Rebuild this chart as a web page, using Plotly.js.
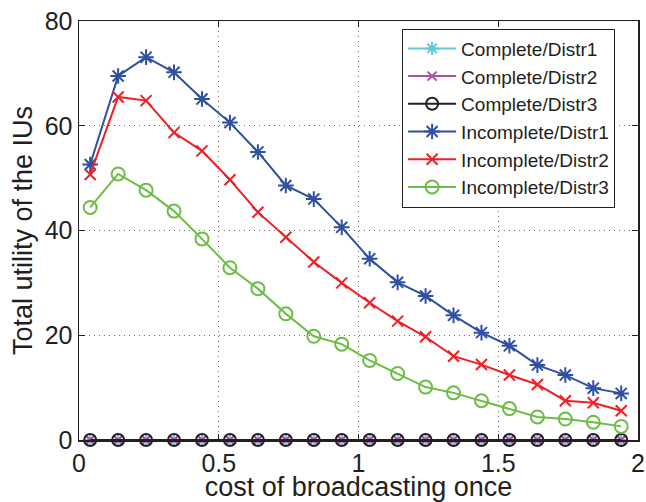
<!DOCTYPE html>
<html>
<head>
<meta charset="utf-8">
<script src="https://cdn.plot.ly/plotly-3.0.1.min.js"></script>
<style>html,body{margin:0;padding:0;background:#fff;}#chart{width:646px;height:502px;}</style>
</head>
<body>
<div id="chart"></div>
<script>
var cost = [0.04, 0.14, 0.24, 0.34, 0.44, 0.54, 0.64, 0.74, 0.84, 0.94, 1.04, 1.14, 1.24, 1.34, 1.44, 1.54, 1.64, 1.74, 1.84, 1.94];
var completeDistr1 = [0,0,0,0,0,0,0,0,0,0,0,0,0,0,0,0,0,0,0,0];
var completeDistr2 = [0,0,0,0,0,0,0,0,0,0,0,0,0,0,0,0,0,0,0,0];
var completeDistr3 = [0,0,0,0,0,0,0,0,0,0,0,0,0,0,0,0,0,0,0,0];
var incompleteDistr1 = [52.6, 69.5, 73.1, 70.2, 65.1, 60.6, 55.0, 48.6, 46.0, 40.6, 34.6, 30.1, 27.5, 23.8, 20.5, 18.0, 14.3, 12.4, 9.9, 8.9];
var incompleteDistr2 = [50.7, 65.5, 64.8, 58.7, 55.2, 49.7, 43.5, 38.7, 34.0, 30.0, 26.2, 22.7, 19.7, 16.0, 14.4, 12.4, 10.6, 7.5, 7.1, 5.6];
var incompleteDistr3 = [44.4, 50.8, 47.7, 43.7, 38.4, 32.9, 28.9, 24.1, 19.8, 18.3, 15.2, 12.7, 10.1, 9.0, 7.5, 6.0, 4.4, 4.0, 3.4, 2.6];
var seriesNames = ['Complete/Distr1','Complete/Distr2','Complete/Distr3','Incomplete/Distr1','Incomplete/Distr2','Incomplete/Distr3'];
var xTickVals = [0, 0.5, 1, 1.5, 2];
var yTickVals = [0, 20, 40, 60, 80];

var styles = [
  {color:'#5fc9d8', symbol:'asterisk-open', size:11},
  {color:'#b24ea0', symbol:'x-thin-open', size:9},
  {color:'#231f20', symbol:'circle-open', size:12},
  {color:'#2e4fa2', symbol:'asterisk-open', size:13},
  {color:'#ee1f26', symbol:'x-thin-open', size:11},
  {color:'#6cbd45', symbol:'circle-open', size:13}
];
var ys = [completeDistr1, completeDistr2, completeDistr3, incompleteDistr1, incompleteDistr2, incompleteDistr3];
var traces = ys.map(function(y, i){
  var s = styles[i];
  return {
    x: cost, y: y, name: seriesNames[i], type:'scatter', mode:'lines+markers',
    cliponaxis:false,
    line:{color:s.color, width:2},
    marker:{symbol:s.symbol, size:s.size, color:s.color, line:{color:s.color, width:2}}
  };
});

var font = 'Liberation Sans, Arial, Helvetica, sans-serif';
var gridDash = '1px,4px';
var layout = {
  width:646, height:502,
  margin:{l:79, r:8, t:21, b:62},
  paper_bgcolor:'#fff', plot_bgcolor:'#fff',
  font:{family:font, color:'#231f20'},
  showlegend:true,
  legend:{x:0.578, y:0.982, xanchor:'left', yanchor:'top', bgcolor:'#fff',
    bordercolor:'#231f20', borderwidth:1, font:{size:19, family:font, color:'#231f20'},
    tracegroupgap:0, itemwidth:48, entrywidth:168, entrywidthmode:'pixels'},
  xaxis:{range:[0,2], tickvals:xTickVals, ticktext:xTickVals.map(String),
    showgrid:true, gridcolor:'#6f6f6f', griddash:gridDash, gridwidth:1,
    zeroline:false, showline:true, linecolor:'#231f20', linewidth:1.5, mirror:'ticks',
    ticks:'inside', ticklen:6, tickcolor:'#231f20', tickwidth:1,
    tickfont:{size:25, family:font, color:'#231f20'},
    title:{text:'cost of broadcasting once', font:{size:27, family:font, color:'#231f20'}, standoff:0}},
  yaxis:{range:[0,80], tickvals:yTickVals, ticktext:yTickVals.map(String),
    showgrid:true, gridcolor:'#6f6f6f', griddash:gridDash, gridwidth:1,
    zeroline:false, showline:true, linecolor:'#231f20', linewidth:1.5, mirror:'ticks',
    ticks:'inside', ticklen:6, tickcolor:'#231f20', tickwidth:1,
    tickfont:{size:25, family:font, color:'#231f20'},
    title:{text:'Total utility of the IUs', font:{size:27, family:font, color:'#231f20'}, standoff:4}}
};
Plotly.newPlot('chart', traces, layout, {displayModeBar:false, staticPlot:true});
</script>
</body>
</html>
